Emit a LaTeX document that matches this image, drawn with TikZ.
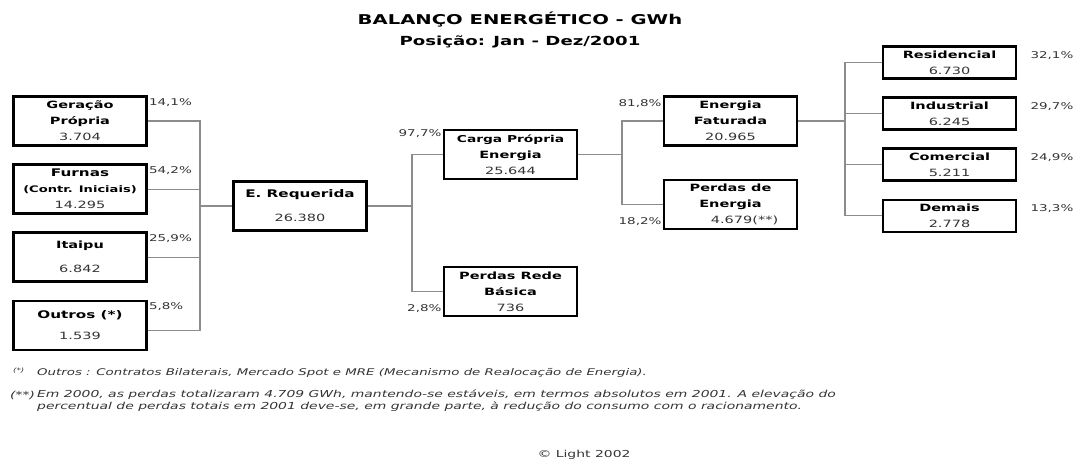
\documentclass[tikz,border=0pt]{standalone}
\usepackage{fontspec}
\setmainfont{DejaVu Sans}[FakeStretch=1.45]
\usepackage{tikz}
\usetikzlibrary{positioning}

\newcommand{\gwh}[1]{{\mdseries\color{black!80}#1}}

\begin{document}
\begin{tikzpicture}[
			x=1pt, y=-1pt,
			box/.style={
				draw,
				line width=2.6pt,
				minimum width=133,
				minimum height=49,
				inner sep=0pt,
				align=center,
				font=\bfseries\fontsize{10}{16}\selectfont
			},
			smallbox/.style={box, minimum height=32},
			pct/.style={font=\fontsize{9.3}{10}\selectfont, text=black!80, inner sep=1pt},
			link/.style={draw=black!45, line width=1.2pt},
			note/.style={anchor=west, inner sep=0pt, align=left, text=black!80,
				font=\itshape\fontsize{9.6}{12}\selectfont},
			node distance=16.5pt
			]
			\useasboundingbox (0,0) rectangle (1083,466);
			
			% -------------------------------
			% TITULO
			% -------------------------------
			\node[font=\bfseries\fontsize{13.5}{16}\selectfont] (title) at (520,20) {BALANÇO ENERGÉTICO - GWh};
			\node[font=\bfseries\fontsize{12.5}{16}\selectfont, below=1pt of title] (period) {Posição: Jan - Dez/2001};
			
			% -------------------------------
			% FONTES
			% -------------------------------
			\node[box] (gen) at (80,121) {Geração\\Própria\\\gwh{3.704}};
			\node[box, below=of gen] (furnas) {\fontsize{10.5}{16}\selectfont Furnas\\{\fontsize{9}{16}\selectfont (Contr. Iniciais)}\\\gwh{14.295}};
			\node[box, below=of furnas] (itaipu) {Itaipu\\[8pt]\gwh{6.842}};
			\node[box, below=of itaipu] (outros) {\fontsize{10.5}{16}\selectfont Outros (*)\\[5pt]\gwh{1.539}};
			
			\node[pct, anchor=west] (pGen) at ([yshift=-7pt]gen.north east) {14,1\%};
			\node[pct, anchor=west] (pFurnas) at ([yshift=-7pt]furnas.north east) {54,2\%};
			\node[pct, anchor=west] (pItaipu) at ([yshift=-7pt]itaipu.north east) {25,9\%};
			\node[pct, anchor=west] (pOutros) at ([yshift=-7pt]outros.north east) {5,8\%};
			
			% -------------------------------
			% ENERGIA REQUERIDA
			% -------------------------------
			\node[box] (ereq) at (300,206) {\fontsize{10.5}{16}\selectfont E. Requerida\\[8pt]\gwh{26.380}};
			
			\node[box] (carga) at (510.5,154.5) {\fontsize{9.5}{16}\selectfont Carga Própria\\Energia\\\gwh{25.644}};
			\node[box] (rede) at (510.5,291.5) {Perdas Rede\\Básica\\\gwh{736}};
			
			\node[pct, anchor=east] (pCarga) at ([yshift=-5pt]carga.north west) {97,7\%};
			\node[pct, anchor=east] (pRede) at ([yshift=9pt]rede.south west) {2,8\%};
			
			% -------------------------------
			% CARGA PROPRIA
			% -------------------------------
			\node[box] (fat) at (730.5,121) {Energia\\Faturada\\\gwh{20.965}};
			\node[box, below=32pt of fat] (perd) {Perdas de\\Energia\\\hspace*{28pt}\gwh{4.679(**)}};
			
			\node[pct, anchor=east] (pFat) at ([yshift=-8pt]fat.north west) {81,8\%};
			\node[pct, anchor=east] (pPerd) at ([yshift=9pt]perd.south west) {18,2\%};
			
			% -------------------------------
			% CONSUMIDORES
			% -------------------------------
			\node[smallbox] (res) at (949.5,62.5) {Residencial\\\gwh{6.730}};
			\node[smallbox, below=of res] (ind) {Industrial\\\gwh{6.245}};
			\node[smallbox, below=of ind] (com) {Comercial\\\gwh{5.211}};
			\node[smallbox, below=of com] (dem) {Demais\\\gwh{2.778}};
			
			\node[pct, anchor=west] (pRes) at ([xshift=12pt,yshift=-10pt]res.north east) {32,1\%};
			\node[pct, anchor=west] (pInd) at ([xshift=12pt,yshift=-10pt]ind.north east) {29,7\%};
			\node[pct, anchor=west] (pCom) at ([xshift=12pt,yshift=-10pt]com.north east) {24,9\%};
			\node[pct, anchor=west] (pDem) at ([xshift=12pt,yshift=-10pt]dem.north east) {13,3\%};
			
			% -------------------------------
			% LIGACOES
			% -------------------------------
			\coordinate (jL) at (200,206);
			\draw[link] (gen.east) -| (jL) |- ([yshift=-5pt]outros.east);
			\draw[link] (furnas.east) -- (furnas.east -| jL);
			\draw[link] (itaipu.east) -- (itaipu.east -| jL);
			\draw[link] (jL) -- (ereq.west);
			
			\coordinate (jM) at (412,206);
			\draw[link] (carga.west) -| (jM) |- (rede.west);
			\draw[link] (ereq.east) -- (jM);
			
			\coordinate (jC) at (622,154.5);
			\draw[link] (fat.west) -| (jC) |- (perd.west);
			\draw[link] (carga.east) -- (jC);
			
			\coordinate (jF) at (845,121);
			\draw[link] (res.west) -| (jF) |- (dem.west);
			\draw[link] (ind.west) -- (ind.west -| jF);
			\draw[link] (com.west) -- (com.west -| jF);
			\draw[link] (fat.east) -- (jF);
			
			% -------------------------------
			% NOTAS
			% -------------------------------
			\node[note, font=\itshape\fontsize{6}{8}\selectfont] (fnStar) at (13,371) {(*)};
			\node[note, font=\itshape\fontsize{9.2}{12}\selectfont] (fnOutros) at (37,373) {Outros : Contratos Bilaterais, Mercado Spot e MRE (Mecanismo de Realocação de Energia).};
			\node[note] (fnStars) at (10,395) {(**)};
			\node[note] (fnPerdas) at (37,401) {Em 2000, as perdas totalizaram 4.709 GWh, mantendo-se estáveis, em termos absolutos em 2001. A elevação do\\percentual de perdas totais em 2001 deve-se, em grande parte, à redução do consumo com o racionamento.};
			
			\node[font=\fontsize{9.6}{10}\selectfont, text=black!80] (copy) at (584,455) {© Light 2002};
			
		\end{tikzpicture}
\end{document}
